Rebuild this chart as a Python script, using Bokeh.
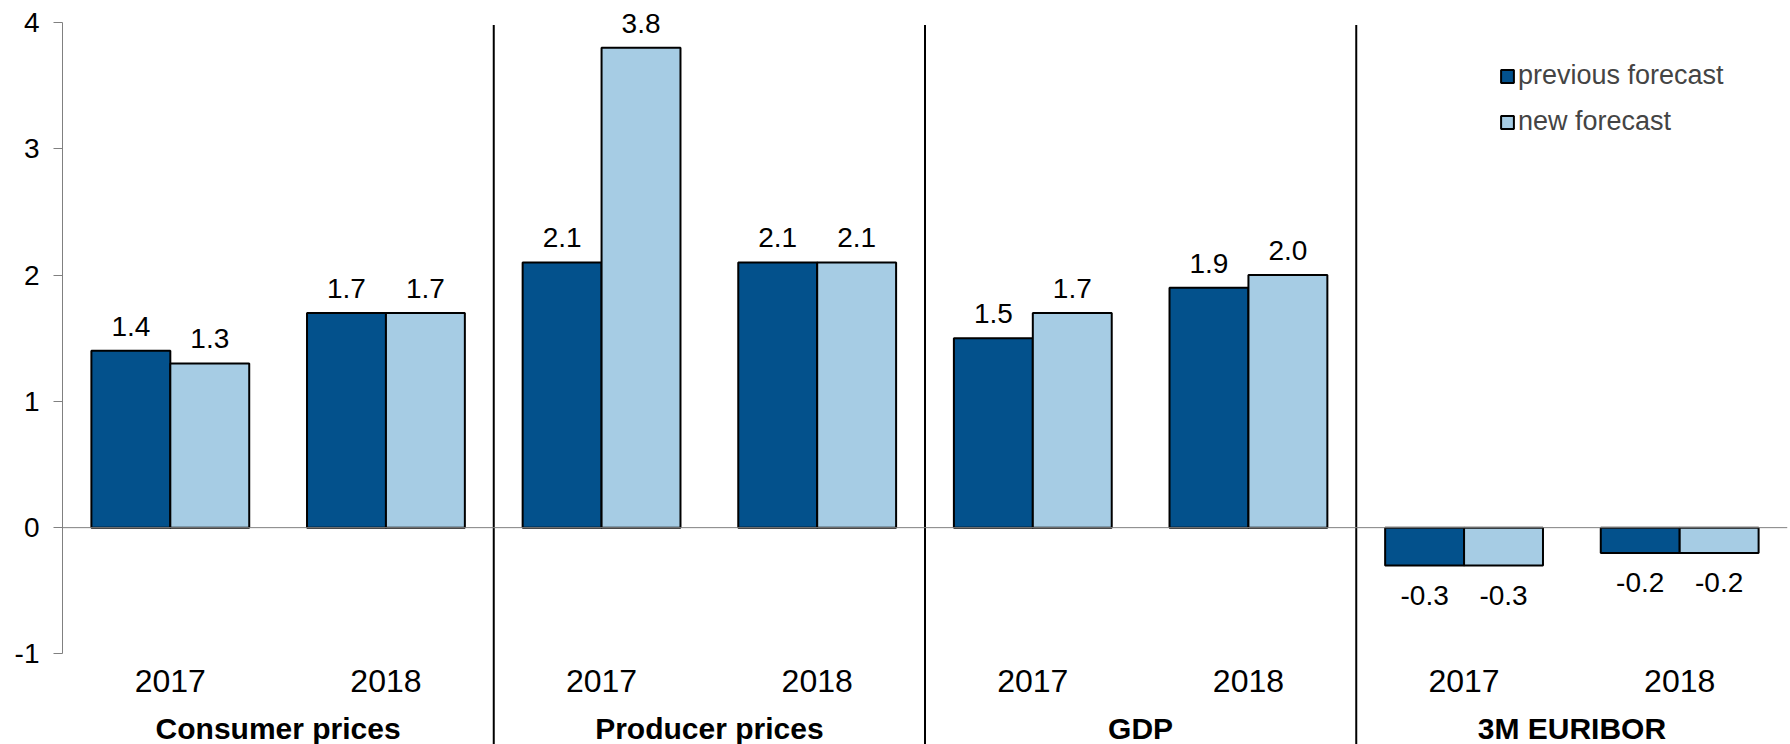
import numpy as np
from bokeh.plotting import figure
from bokeh.models import Range1d, FixedTicker, Span, ColumnDataSource, Legend
from bokeh.core.properties import value
from bokeh.embed import file_html
from bokeh.resources import INLINE

groups = ["Consumer prices", "Producer prices", "GDP", "3M EURIBOR"]
years = ["2017", "2018"]
previous = [1.4, 1.7, 2.1, 2.1, 1.5, 1.9, -0.3, -0.2]
new = [1.3, 1.7, 3.8, 2.1, 1.7, 2.0, -0.3, -0.2]
y_ticks = [-1, 0, 1, 2, 3, 4]

DARK = "#03518C"
LIGHT = "#A6CCE4"
FONT = "Liberation Sans"

n = len(previous)
xc = np.arange(n) + 0.5
bw = 0.366
off = bw / 2
Y0 = -1.717
Y1 = 4.174

p = figure(width=1790, height=744, output_backend="svg", toolbar_location=None,
           x_range=Range1d(0, n), y_range=Range1d(Y0, Y1),
           min_border_left=62, min_border_right=3, min_border_top=0, min_border_bottom=0)
p.outline_line_color = None
p.xgrid.visible = False
p.ygrid.visible = False
p.xaxis.visible = False

ax = p.yaxis[0]
ax.ticker = FixedTicker(ticks=y_ticks)
ax.bounds = (-1, 4)
ax.axis_line_color = "#808080"
ax.axis_line_width = 1
ax.major_tick_line_color = "#808080"
ax.major_tick_in = 0
ax.major_tick_out = 9
ax.minor_tick_line_color = None
ax.major_label_text_font = FONT
ax.major_label_text_font_size = "28px"
ax.major_label_text_color = "#000000"
ax.major_label_standoff = 14
ax.major_label_overrides = {t: str(t) for t in y_ticks}

p.add_layout(Span(location=0, dimension="width", line_color="#808080", line_width=1))

src = ColumnDataSource(dict(
    xp=xc - off, xn=xc + off, prev=previous, new=new,
    lp=["%.1f" % v for v in previous], ln=["%.1f" % v for v in new],
))

r1 = p.vbar(x="xp", top="prev", bottom=0, width=bw, source=src,
            fill_color=DARK, line_color="#000000", line_width=2)
r2 = p.vbar(x="xn", top="new", bottom=0, width=bw, source=src,
            fill_color=LIGHT, line_color="#000000", line_width=2)

# value labels
for xs, vals, labs in (("xp", previous, "lp"), ("xn", new, "ln")):
    pos = [i for i, v in enumerate(vals) if v >= 0]
    neg = [i for i, v in enumerate(vals) if v < 0]
    for idx, base, yo in ((pos, "bottom", -15), (neg, "top", 20)):
        s = ColumnDataSource(dict(x=[src.data[xs][i] for i in idx],
                                  y=[vals[i] for i in idx],
                                  t=[src.data[labs][i] for i in idx]))
        p.text(x="x", y="y", text="t", source=s, text_align="center",
               text_baseline=base, y_offset=yo, text_font=value(FONT),
               text_font_size="28px", text_color="#000000")

# separators between groups
sep_x = [2, 4, 6]
p.segment(x0=sep_x, x1=sep_x, y0=[3.98] * 3, y1=[Y0] * 3,
          line_color="#000000", line_width=2)

# category (year) labels and group labels
p.text(x=xc, y=[-1.218] * n, text=years * len(groups), text_align="center",
       text_baseline="middle", text_font=value(FONT), text_font_size="32px",
       text_color="#000000")
p.text(x=np.arange(len(groups)) * 2 + 1.0, y=[-1.59] * len(groups), text=groups,
       text_align="center", text_baseline="middle", text_font=value(FONT),
       text_font_size="30px", text_font_style="bold", text_color="#000000")

legend = Legend(items=[("previous forecast", [r1]), ("new forecast", [r2])],
                location=(1437, 607), orientation="vertical")
legend.padding = 0
legend.margin = 0
legend.border_line_color = None
legend.background_fill_alpha = 0
legend.glyph_width = 16
legend.glyph_height = 16
legend.label_standoff = 3
legend.label_text_font = FONT
legend.label_text_font_size = "27px"
legend.label_height = 31
legend.spacing = 15
p.add_layout(legend)

open("out.html", "w").write(file_html(p, INLINE))
